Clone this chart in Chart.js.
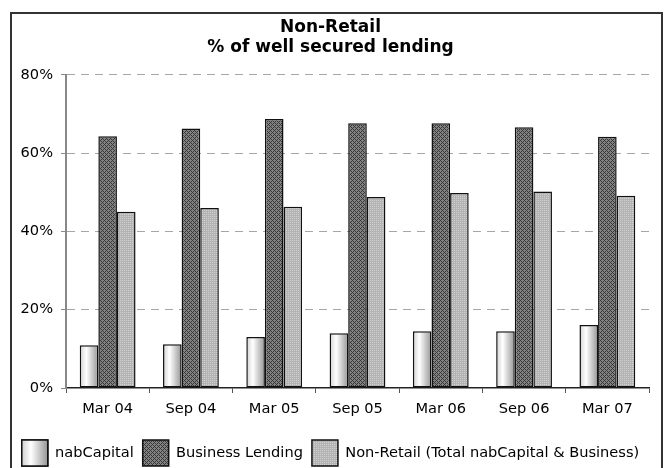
<!DOCTYPE html>
<html>
<head>
<meta charset="utf-8">
<title>Non-Retail % of well secured lending</title>
<script src="https://cdn.jsdelivr.net/npm/chart.js@4.4.1/dist/chart.umd.min.js"></script>
<style>
  html, body { margin: 0; padding: 0; background: #fff; overflow: hidden; }
  #wrap { position: absolute; left: 0; top: 0; width: 668px; height: 476px; }
  #frame { position: absolute; left: 10px; top: 12px; width: 649px; height: 480px; border: 2px solid #333; pointer-events: none; }
</style>
</head>
<body>
<div id="wrap"><canvas id="securedChart"></canvas></div>
<div id="frame"></div>
<script>
// --- Data ---
const categories = ['Mar 04', 'Sep 04', 'Mar 05', 'Sep 05', 'Mar 06', 'Sep 06', 'Mar 07'];
const nabCapital = [10.9, 11.2, 13.0, 14.0, 14.5, 14.5, 16.1];
const businessLending = [64.3, 66.3, 68.7, 67.6, 67.6, 66.6, 64.2];
const nonRetail = [45.0, 46.0, 46.3, 48.8, 49.8, 50.2, 49.1];
const yTicks = [0, 20, 40, 60, 80];

const GROUP_WIDTH = 0.67; // share of each category taken by the 3 bars

document.addEventListener('DOMContentLoaded', () => {
  Chart.defaults.font.family = '"DejaVu Sans", Verdana, sans-serif';
  Chart.defaults.color = '#000';

  // --- Fill patterns (small tiles repeated by the canvas) ---
  function makePattern(base, dark, light) {
    const tile = document.createElement('canvas');
    tile.width = 4;
    tile.height = 4;
    const p = tile.getContext('2d');
    p.fillStyle = base;
    p.fillRect(0, 0, 4, 4);
    for (let x = 0; x < 4; x++) {
      for (let y = 0; y < 4; y++) {
        if (dark && ((x + y) % 4 === 0 || (x - y + 4) % 4 === 0)) {
          p.fillStyle = dark;
          p.fillRect(x, y, 1, 1);
        } else if (light && x % 2 === 0 && y % 2 === 0) {
          p.fillStyle = light;
          p.fillRect(x, y, 1, 1);
        }
      }
    }
    return p.createPattern(tile, 'repeat');
  }

  const hatchDark = makePattern('#828282', '#383838', null);
  const dotsLight = makePattern('#b3b3b3', null, '#d2d2d2');

  function shineStops(g) {
    g.addColorStop(0, '#d0d0d0');
    g.addColorStop(0.35, '#ffffff');
    g.addColorStop(1, '#959595');
    return g;
  }

  // nabCapital bars: white sheen across each bar
  function capitalFill(context) {
    const chart = context.chart;
    const xScale = chart.scales.x;
    if (context.type !== 'data' || !xScale || !xScale.width) return '#f0f0f0';
    const barW = xScale.width / categories.length * GROUP_WIDTH / 3;
    const left = xScale.getPixelForValue(context.dataIndex) - 1.5 * barW;
    if (!isFinite(left) || !isFinite(barW)) return '#f0f0f0';
    return shineStops(chart.ctx.createLinearGradient(left, 0, left + barW, 0));
  }

  // same sheen for the first legend box
  const legendSheen = {
    id: 'legendSheen',
    afterDraw(chart) {
      const legend = chart.legend;
      const hit = legend && legend.legendHitBoxes && legend.legendHitBoxes[0];
      if (!hit) return;
      const { boxWidth, boxHeight } = legend.options.labels;
      const c = chart.ctx;
      c.save();
      c.fillStyle = shineStops(c.createLinearGradient(hit.left, 0, hit.left + boxWidth, 0));
      c.strokeStyle = '#111';
      c.lineWidth = 1.5;
      c.beginPath();
      c.rect(hit.left, hit.top, boxWidth, boxHeight);
      c.fill();
      c.stroke();
      c.restore();
    }
  };

  const ctx = document.getElementById('securedChart');

  const barStyle = {
    borderColor: '#111',
    borderWidth: 1.5,
    borderSkipped: false,
    categoryPercentage: GROUP_WIDTH,
    barPercentage: 1.0
  };

  new Chart(ctx, {
    type: 'bar',
    data: {
      labels: categories,
      datasets: [
        { label: 'nabCapital', data: nabCapital, backgroundColor: capitalFill, ...barStyle },
        { label: 'Business Lending', data: businessLending, backgroundColor: hatchDark, ...barStyle },
        { label: 'Non-Retail (Total nabCapital & Business)', data: nonRetail, backgroundColor: dotsLight, ...barStyle }
      ]
    },
    options: {
      responsive: true,
      maintainAspectRatio: false,
      animation: false,
      layout: { padding: { left: 12, right: 19, top: 12, bottom: 0 } },
      plugins: {
        title: {
          display: true,
          text: ['Non-Retail', '% of well secured lending'],
          color: '#000',
          font: { size: 17, weight: 'bold', lineHeight: 1.2 },
          padding: { top: 5, bottom: 17 }
        },
        legend: {
          position: 'bottom',
          labels: {
            boxWidth: 26,
            boxHeight: 26,
            padding: 9,
            color: '#000',
            font: { size: 14.6 }
          }
        },
        tooltip: { enabled: false }
      },
      scales: {
        x: {
          afterFit: (scale) => { scale.height = 43; },
          ticks: { color: '#000', padding: 7, font: { size: 14.6 } },
          grid: { drawOnChartArea: false, offset: true, tickLength: 5, tickColor: '#555' },
          border: { color: '#222', width: 1.5 }
        },
        y: {
          min: 0,
          max: 80,
          afterBuildTicks: (scale) => { scale.ticks = yTicks.map(v => ({ value: v })); },
          afterFit: (scale) => { scale.width = 54; },
          ticks: {
            color: '#000',
            padding: 8,
            font: { size: 14.6 },
            callback: (v) => v + '%'
          },
          grid: {
            color: (c) => (c.tick && c.tick.value === 0 ? 'rgba(0,0,0,0)' : '#a6a6a6'),
            tickColor: '#888',
            tickLength: 5
          },
          border: { color: '#888', width: 2, dash: [8, 6] }
        }
      }
    },
    plugins: [legendSheen]
  });
});
</script>
</body>
</html>
